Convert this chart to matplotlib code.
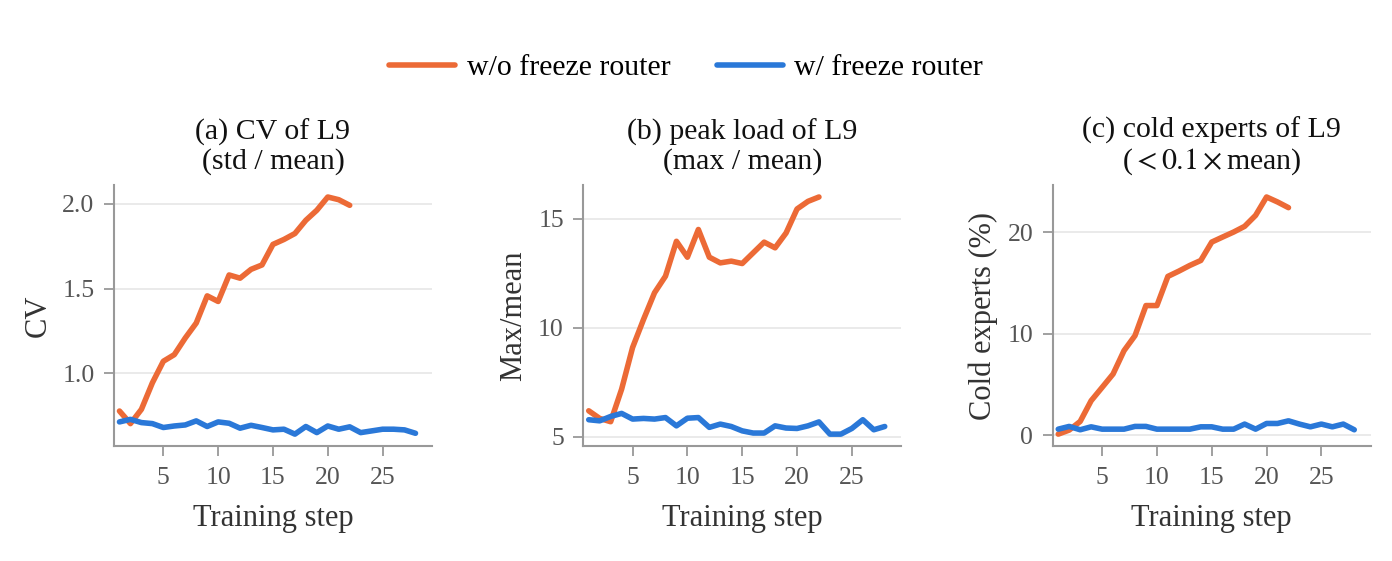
import numpy as np
import matplotlib
matplotlib.use("Agg")
import matplotlib.pyplot as plt

plt.rcParams['font.family'] = ['Liberation Serif', 'DejaVu Serif']
plt.rcParams['mathtext.fontset'] = 'stix'

# training steps
steps_wo = np.arange(1, 23)
steps_w = np.arange(1, 29)

# (a) CV
cv_wo = [0.779, 0.705, 0.789, 0.945, 1.072, 1.111, 1.209, 1.297, 1.457, 1.424,
         1.580, 1.561, 1.613, 1.639, 1.760, 1.789, 1.824, 1.902, 1.961, 2.039,
         2.023, 1.990]
cv_w = [0.715, 0.730, 0.711, 0.705, 0.682, 0.691, 0.697, 0.721, 0.688, 0.715,
        0.707, 0.678, 0.695, 0.682, 0.668, 0.672, 0.643, 0.688, 0.652, 0.691,
        0.672, 0.686, 0.652, 0.662, 0.672, 0.672, 0.668, 0.648]

# (b) max / mean
peak_wo = [6.19, 5.84, 5.69, 7.18, 9.09, 10.38, 11.60, 12.36, 13.96, 13.23,
           14.50, 13.23, 12.97, 13.05, 12.94, 13.43, 13.92, 13.66, 14.34, 15.44,
           15.79, 15.99]
peak_w = [5.78, 5.73, 5.93, 6.07, 5.81, 5.84, 5.81, 5.88, 5.50, 5.85,
          5.88, 5.43, 5.58, 5.47, 5.27, 5.17, 5.17, 5.50, 5.40, 5.38,
          5.50, 5.68, 5.12, 5.12, 5.38, 5.78, 5.32, 5.47]

# (c) cold experts %
cold_wo = [0.1, 0.5, 1.35, 3.39, 4.70, 6.02, 8.32, 9.80, 12.76, 12.76,
           15.63, 16.15, 16.71, 17.20, 19.01, 19.51, 20.0, 20.56, 21.64, 23.45,
           22.96, 22.40]
cold_w = [0.59, 0.86, 0.53, 0.82, 0.59, 0.59, 0.59, 0.86, 0.86, 0.59,
          0.59, 0.59, 0.59, 0.82, 0.82, 0.59, 0.59, 1.09, 0.59, 1.15,
          1.15, 1.41, 1.09, 0.82, 1.09, 0.82, 1.09, 0.53]

titles = ["(a) CV of L9\n(std / mean)",
          "(b) peak load of L9\n(max / mean)",
          "(c) cold experts of L9\n($<0.1\\times$mean)"]
ylabels = ["CV", "Max/mean", "Cold experts (%)"]
yticks = [[1.0, 1.5, 2.0], [5, 10, 15], [0, 10, 20]]
ytick_labels = [["1.0", "1.5", "2.0"], ["5", "10", "15"], ["0", "10", "20"]]
xticks = [5, 10, 15, 20, 25]

orange = '#ec6a36'
blue = '#2a78d8'

fig = plt.figure(figsize=(13.92, 5.61), dpi=100)
lefts = [0.0819, 0.419, 0.7563]
data = [(cv_wo, cv_w), (peak_wo, peak_w), (cold_wo, cold_w)]

for i in range(3):
    ax = fig.add_axes([lefts[i], 0.205, 0.2284, 0.465])
    a, b = data[i]
    ax.plot(steps_wo, a, color=orange, lw=4, solid_capstyle='round',
            label='w/o freeze router')
    ax.plot(steps_w, b, color=blue, lw=4, solid_capstyle='round',
            label='w/ freeze router')
    ax.set_xlim(0.5, 29.5)
    ax.set_xticks(xticks)
    ax.set_yticks(yticks[i])
    ax.set_yticklabels(ytick_labels[i])
    ax.grid(axis='y', color='#e6e6e6', lw=1.2)
    ax.set_axisbelow(True)
    for s in ['top', 'right']:
        ax.spines[s].set_visible(False)
    for s in ['left', 'bottom']:
        ax.spines[s].set_color('#999999')
        ax.spines[s].set_linewidth(1.5)
    ax.tick_params(colors='#999999', labelcolor='#555555', labelsize=18.5,
                   length=7, width=1.3)
    ax.tick_params(axis='x', pad=8)
    ax.tick_params(axis='y', pad=7)
    ax.set_title(titles[i], fontsize=21.5, color='#111111', pad=12,
                 linespacing=1.1)
    ax.set_xlabel("Training step", fontsize=22, color='#333333', labelpad=11)
    ax.set_ylabel(ylabels[i], fontsize=22, color='#333333', labelpad=7)
    if i == 0:
        handles, labels = ax.get_legend_handles_labels()

fig.legend(handles, labels, loc='center', bbox_to_anchor=(0.493, 0.879),
           ncol=2, frameon=False, fontsize=21.5, handlelength=2.2,
           handletextpad=0.4, columnspacing=1.55)

fig.savefig('out.png', dpi=100)
